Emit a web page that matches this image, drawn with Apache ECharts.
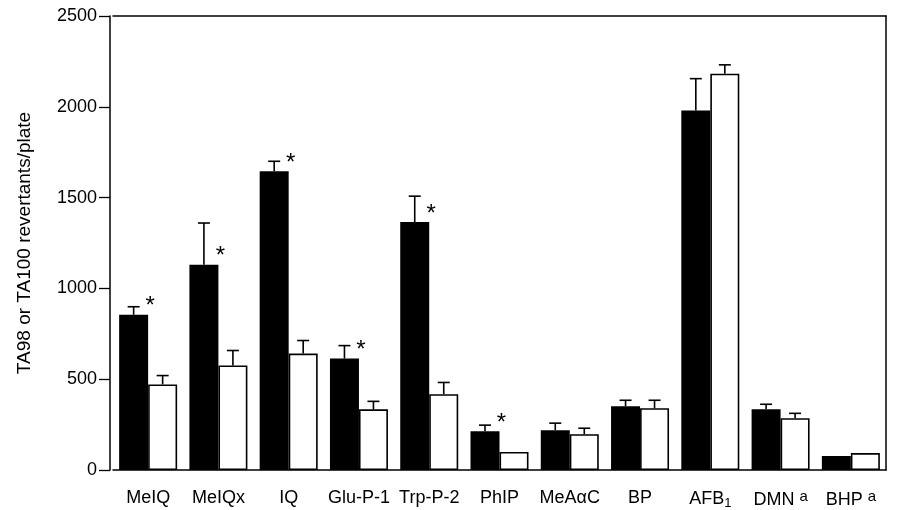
<!DOCTYPE html>
<html>
<head>
    <meta charset="utf-8">
    <script type="text/javascript" src="https://cdn.jsdelivr.net/npm/echarts@6/dist/echarts.min.js"></script>
    <title>TA98 / TA100</title>
</head>
<body style="margin:0">
    <div id="container" style="width:901px;height:510px;"></div>
    <script type="text/javascript">
    // categories and values
    var categories = ['MeIQ', 'MeIQx', 'IQ', 'Glu-P-1', 'Trp-P-2', 'PhIP', 'MeAαC', 'BP', 'AFB1', 'DMN', 'BHP'];
    var blackValues = [855, 1130, 1645, 614, 1365, 214, 219, 351, 1979, 334, 77];
    var blackErrTop = [899, 1360, 1700, 685, 1508, 247, 258, 384, 2155, 362, 77];
    var whiteValues = [471, 576, 641, 334, 417, 99, 197, 340, 2182, 285, 93];
    var whiteErrTop = [520, 658, 713, 378, 482, 99, 230, 384, 2231, 312, 93];
    var starred = [1, 1, 1, 1, 1, 1, 0, 0, 0, 0, 0];
    var yTicks = [0, 500, 1000, 1500, 2000, 2500];

    var BAR_W = 29;
    var font = 'Liberation Sans, Arial, sans-serif';

    // label text with sub/superscripts
    function fmtLabel(v) {
        if (v === 'AFB1') return 'AFB{sub|1}';
        if (v === 'DMN' || v === 'BHP') return v + ' {sup|a}';
        return v;
    }

    // error bars + asterisks, offset = -1 (black) or +1 (white)
    function errorSeries(vals, tops, offset, stars) {
        var data = vals.map(function (v, i) { return [i, v, tops[i], stars ? stars[i] : 0]; });
        return {
            type: 'custom',
            z: 5,
            data: data,
            encode: { x: 0, y: [1, 2] },
            renderItem: function (params, api) {
                var i = api.value(0);
                var base = api.coord([i, api.value(1)]);
                var top = api.coord([i, api.value(2)]);
                var cx = base[0] + offset * BAR_W / 2;
                var children = [];
                if (top[1] < base[1] - 1) {
                    children.push({ type: 'line', shape: { x1: cx, y1: base[1], x2: cx, y2: top[1] }, style: { stroke: '#000', lineWidth: 1.6 } });
                    children.push({ type: 'line', shape: { x1: cx - 6, y1: top[1], x2: cx + 6, y2: top[1] }, style: { stroke: '#000', lineWidth: 1.6 } });
                }
                if (api.value(3)) {
                    children.push({
                        type: 'text',
                        style: { text: '*', x: base[0] + 2, y: base[1] - 8, fill: '#000', font: '24px ' + font, align: 'center', verticalAlign: 'middle' }
                    });
                }
                return { type: 'group', children: children };
            }
        };
    }

    var myChart = echarts.init(document.getElementById('container'));

    var option = {
        animation: false,
        backgroundColor: '#fff',
        grid: { left: 113, right: 15, top: 16, bottom: 38 },
        xAxis: [{
            type: 'category',
            data: categories,
            axisLine: { lineStyle: { color: '#000', width: 1.5 } },
            axisTick: { show: false },
            axisLabel: {
                interval: 0,
                color: '#000', fontSize: 18, fontFamily: font, margin: 19,
                formatter: fmtLabel,
                rich: {
                    sub: { fontSize: 13, verticalAlign: 'bottom', padding: [8, 0, 0, 0], fontFamily: font, color: '#000' },
                    sup: { fontSize: 15, verticalAlign: 'top', padding: [0, 0, 8, 0], fontFamily: font, color: '#000' }
                }
            }
        }, {
            // top frame line
            type: 'category',
            position: 'top',
            data: categories,
            axisLine: { show: true, onZero: false, lineStyle: { color: '#000', width: 1.5 } },
            axisTick: { show: false },
            axisLabel: { show: false }
        }],
        yAxis: [{
            type: 'value',
            min: 0,
            max: yTicks[yTicks.length - 1],
            interval: yTicks[1] - yTicks[0],
            offset: 3,
            name: 'TA98 or TA100 revertants/plate',
            nameLocation: 'middle',
            nameGap: 76,
            nameTextStyle: { color: '#000', fontSize: 19, fontFamily: font },
            axisLine: { show: true, lineStyle: { color: '#000', width: 1.5 } },
            axisTick: { show: true, length: 11, lineStyle: { color: '#000', width: 1.3 } },
            axisLabel: { color: '#000', fontSize: 18, fontFamily: font, margin: 13, formatter: function (v) { return String(v); } },
            splitLine: { show: false }
        }, {
            // right frame line
            type: 'value',
            position: 'right',
            min: 0,
            max: yTicks[yTicks.length - 1],
            interval: yTicks[1] - yTicks[0],
            axisLine: { show: true, onZero: false, lineStyle: { color: '#000', width: 1.5 } },
            axisTick: { show: false },
            axisLabel: { show: false },
            splitLine: { show: false }
        }],
        series: [{
            name: 'black',
            type: 'bar',
            barWidth: BAR_W,
            barGap: '0%',
            data: blackValues,
            itemStyle: { color: '#000' }
        }, {
            name: 'white',
            type: 'bar',
            barWidth: BAR_W,
            data: whiteValues,
            itemStyle: { color: '#fff', borderColor: '#000', borderWidth: 1.6 }
        },
        errorSeries(blackValues, blackErrTop, -1, starred),
        errorSeries(whiteValues, whiteErrTop, 1, null)]
    };

    myChart.setOption(option);
    </script>
</body>
</html>
